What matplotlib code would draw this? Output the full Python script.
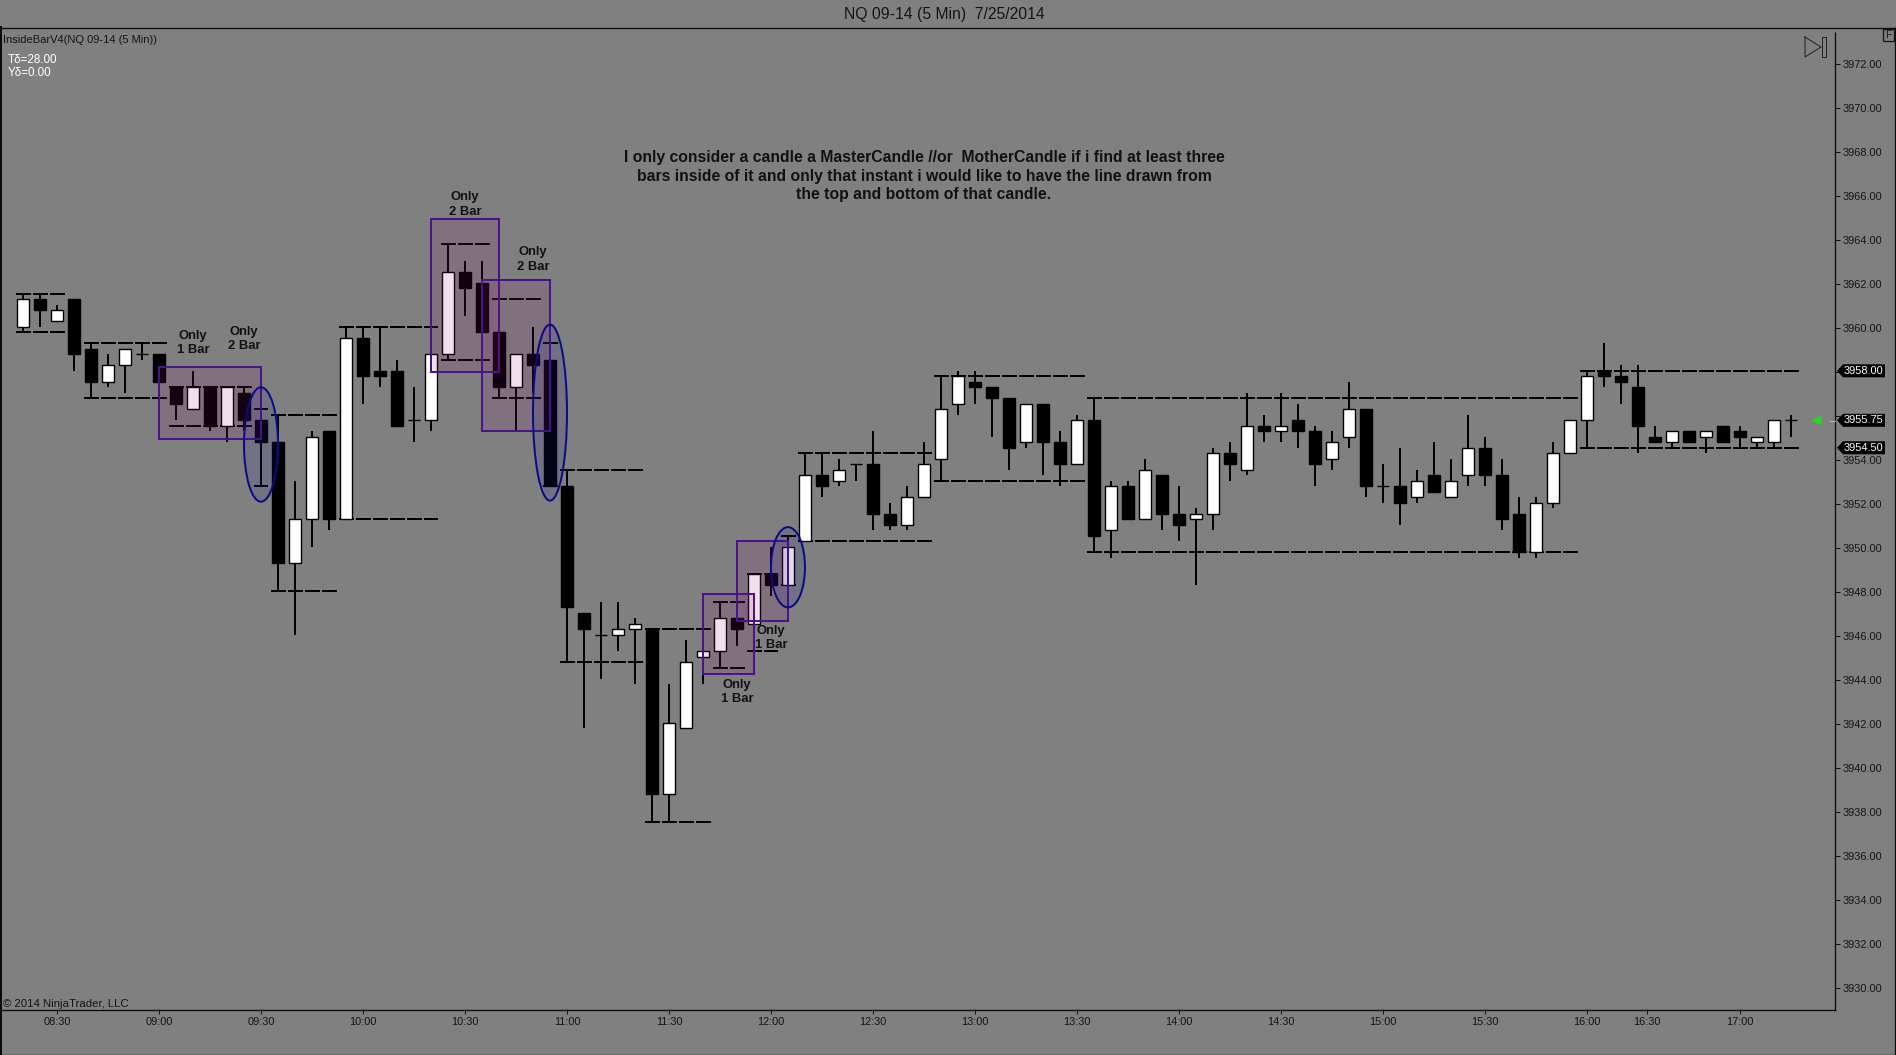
import matplotlib
matplotlib.use("Agg")
import matplotlib.pyplot as plt
from matplotlib.patches import Rectangle, Ellipse, Polygon
from matplotlib.transforms import blended_transform_factory

plt.rcParams['font.family'] = ['Liberation Sans', 'DejaVu Sans']

# ---------- data ----------
opens = [3960.0,3961.25,3960.25,3961.25,3959.0,3957.5,3958.25,3958.75,3958.75,3957.25,
         3956.25,3957.25,3955.5,3957.0,3955.75,3954.75,3949.25,3951.25,3955.25,3951.25,
         3959.5,3958.0,3958.0,3955.75,3955.75,3958.75,3962.5,3962.0,3959.75,3957.25,
         3958.75,3958.5,3952.75,3947.0,3946.0,3946.0,3946.25,3946.25,3938.75,3941.75,
         3945.0,3945.25,3946.75,3946.5,3948.75,3948.25,3950.25,3953.25,3953.0,3953.75,
         3953.75,3951.5,3951.0,3952.25,3954.0,3956.5,3957.5,3957.25,3956.75,3954.75,
         3956.5,3954.75,3953.75,3955.75,3950.75,3952.75,3951.25,3953.25,3951.5,3951.25,
         3951.5,3954.25,3953.5,3955.5,3955.25,3955.75,3955.25,3954.0,3955.0,3956.25,
         3952.75,3952.75,3952.25,3953.25,3952.25,3953.25,3954.5,3953.25,3951.5,3949.75,
         3952.0,3954.25,3955.75,3958.0,3957.75,3957.25,3955.0,3954.75,3955.25,3955.0,
         3955.5,3955.25,3954.75,3954.75,3955.75]
closes = [3961.25,3960.75,3960.75,3958.75,3957.5,3958.25,3959.0,3958.75,3957.5,3956.5,
          3957.25,3955.5,3957.25,3955.75,3954.75,3949.25,3951.25,3955.0,3951.25,3959.5,
          3957.75,3957.75,3955.5,3955.75,3958.75,3962.5,3961.75,3959.75,3957.25,3958.75,
          3958.25,3952.75,3947.25,3946.25,3946.0,3946.25,3946.5,3938.75,3942.0,3944.75,
          3945.25,3946.75,3946.25,3948.75,3948.25,3950.0,3953.25,3952.75,3953.5,3953.75,
          3951.5,3951.0,3952.25,3953.75,3956.25,3957.75,3957.25,3956.75,3954.5,3956.5,
          3954.75,3953.75,3955.75,3950.5,3952.75,3951.25,3953.5,3951.5,3951.0,3951.5,
          3954.25,3953.75,3955.5,3955.25,3955.5,3955.25,3953.75,3954.75,3956.25,3952.75,
          3952.75,3952.0,3953.0,3952.5,3953.0,3954.5,3953.25,3951.25,3949.75,3952.0,
          3954.25,3955.75,3957.75,3957.75,3957.5,3955.5,3954.75,3955.25,3954.75,3955.25,
          3954.75,3955.0,3955.0,3955.75,3955.75]
highs = [3961.5,3961.5,3961.0,3961.25,3959.25,3958.75,3959.0,3959.25,3958.75,3957.25,
         3958.0,3957.25,3957.25,3957.25,3957.25,3956.0,3953.0,3955.25,3955.25,3960.0,
         3960.0,3960.0,3958.5,3957.25,3958.75,3963.75,3963.0,3963.0,3959.75,3958.75,
         3960.0,3959.25,3953.5,3947.0,3947.5,3947.5,3946.75,3946.25,3943.75,3945.75,
         3945.25,3947.5,3946.75,3948.75,3950.0,3950.5,3954.25,3954.25,3954.0,3953.75,
         3955.25,3952.0,3952.75,3954.75,3957.75,3958.0,3958.0,3957.25,3956.75,3956.5,
         3956.5,3955.25,3956.0,3956.75,3953.0,3953.0,3954.0,3953.25,3952.75,3951.75,
         3954.5,3954.75,3957.0,3956.0,3957.0,3956.5,3955.5,3955.25,3957.5,3956.25,
         3953.75,3954.5,3953.5,3954.75,3954.0,3956.0,3955.0,3954.0,3952.25,3952.25,
         3954.75,3955.75,3958.0,3959.25,3958.25,3958.25,3955.5,3955.25,3955.25,3955.25,
         3955.5,3955.5,3955.0,3955.75,3956.0]
lows = [3959.75,3960.0,3960.25,3958.0,3956.75,3957.25,3957.0,3958.5,3957.5,3955.75,
        3956.25,3955.25,3954.75,3955.25,3952.75,3948.0,3946.0,3950.0,3950.75,3951.25,
        3956.5,3957.25,3955.5,3954.75,3955.25,3958.5,3960.5,3959.75,3956.75,3955.25,
        3957.0,3952.75,3944.75,3941.75,3944.0,3945.25,3943.75,3937.5,3937.5,3941.75,
        3943.75,3944.5,3945.5,3945.25,3947.75,3948.25,3950.25,3952.25,3952.75,3953.0,
        3950.75,3950.75,3950.75,3952.25,3953.0,3956.0,3956.5,3955.0,3953.5,3954.5,
        3953.25,3952.75,3953.75,3949.75,3949.5,3951.25,3951.25,3950.75,3950.25,3948.25,
        3950.75,3953.0,3953.25,3954.75,3954.75,3954.5,3952.75,3953.5,3954.5,3952.25,
        3952.0,3951.0,3952.0,3952.5,3952.25,3952.75,3952.75,3950.75,3949.5,3949.5,
        3951.75,3954.25,3954.5,3957.25,3956.5,3954.25,3954.75,3954.5,3954.75,3954.25,
        3954.75,3954.5,3954.5,3954.5,3955.0]

time_ticks = [2, 8, 14, 20, 26, 32, 38, 44, 50, 56, 62, 68, 74, 80, 86, 92, 95.5, 101]
time_labels = ['08:30','09:00','09:30','10:00','10:30','11:00','11:30','12:00','12:30',
               '13:00','13:30','14:00','14:30','15:00','15:30','16:00','16:30','17:00']
price_ticks = list(range(3930, 3973, 2))
hidden_price_labels = [3956, 3958]  # covered by the price flags in the reference

# master-candle levels: start bar, end bar, top level, bottom level
level_start = [-0.4, 3.6, 8.6, 13.6, 14.6, 18.6, 24.6, 27.6, 30.6, 31.6, 36.6, 40.6, 42.6, 44.6, 45.6, 53.6, 62.6, 91.6]
level_end   = [ 2.5, 8.5, 13.5, 14.4, 18.5, 24.4, 27.5, 30.5, 31.5, 36.5, 40.5, 42.5, 44.4, 45.5, 53.5, 62.5, 91.5, 104.5]
level_top   = [3961.5,3959.25,3957.25,3956.25,3956.0,3960.0,3963.75,3961.25,3959.25,3953.5,
               3946.25,3947.5,3948.75,3950.5,3954.25,3957.75,3956.75,3958.0]
level_bot   = [3959.75,3956.75,3955.5,3952.75,3948.0,3951.25,3958.5,3956.75,3952.75,3944.75,
               3937.5,3944.5,3945.25,3948.25,3950.25,3953.0,3949.75,3954.5]

# annotation boxes: first bar, last bar, bottom, top
box_x0 = [8, 24, 27, 40, 42]
box_x1 = [14, 28, 31, 43, 45]
box_y0 = [3954.9, 3957.95, 3955.25, 3944.2, 3946.65]
box_y1 = [3958.15, 3964.9, 3962.15, 3947.85, 3950.25]

# annotation ellipses: centre bar, centre price, height
oval_x = [14, 31, 45]
oval_y = [3954.65, 3956.1, 3949.07]
oval_h = [5.2, 8.0, 3.65]

note_x = [10, 13, 26, 30, 44, 42]
note_y = [3959.26, 3959.46, 3965.56, 3963.06, 3945.86, 3943.41]
note_t = ['Only\n1 Bar', 'Only\n2 Bar', 'Only\n2 Bar', 'Only\n2 Bar', 'Only\n1 Bar', 'Only\n1 Bar']

main_note = ('I only consider a candle a MasterCandle //or  MotherCandle if i find at least three\n'
             'bars inside of it and only that instant i would like to have the line drawn from\n'
             'the top and bottom of that candle.')

flag_prices = [3958.0, 3955.75, 3954.5]
last_price = 3955.75

# ---------- layout ----------
W, H = 1896, 1055
BG = '#808080'
DARK = '#141414'
fig = plt.figure(figsize=(W / 100, H / 100), dpi=100, facecolor=BG)
L, R, T, B = 2, 1835, 27, 1009
ax = fig.add_axes([L / W, (H - B) / H, (R - L) / W, (B - T) / H], facecolor=BG)
ax.set_xlim((L - 23) / 17, (R - 23) / 17)
PX = 1 / 22          # one pixel in price units
Y_SHIFT = 1.2 * PX   # the tick marks sit slightly below the true price in the reference
ax.set_ylim(3972 - (B - 64) / 22 - Y_SHIFT, 3972 - (T - 64) / 22 - Y_SHIFT)
for s in ax.spines.values():
    s.set_visible(False)

px = 0.72  # one pixel in points
x_bars = list(range(len(opens)))

# levels
dash = (0, (7.5, 1.0))
for x0, x1, t, b in zip(level_start, level_end, level_top, level_bot):
    ax.plot([x0, x1], [t, t], color='black', lw=2 * px, ls=dash, dash_capstyle='butt', zorder=2)
    ax.plot([x0, x1], [b, b], color='black', lw=2 * px, ls=dash, dash_capstyle='butt', zorder=2)

# candles
ax.vlines(x_bars, lows, highs, color='black', lw=2 * px, zorder=3)
body_bottom = [min(o, c) for o, c in zip(opens, closes)]
body_height = [abs(c - o) for o, c in zip(opens, closes)]
body_color = ['white' if c > o else 'black' for o, c in zip(opens, closes)]
ax.bar(x_bars, body_height, bottom=body_bottom, width=12 / 17, color=body_color,
       edgecolor='black', linewidth=1.4 * px, zorder=4)

# annotation overlays
for x0, x1, y0, y1 in zip(box_x0, box_x1, box_y0, box_y1):
    ax.add_patch(Rectangle((x0, y0), x1 - x0, y1 - y0, facecolor=(0.55, 0.05, 0.45, 0.13),
                           edgecolor='#47148a', linewidth=2 * px, zorder=5))
for x, y, h in zip(oval_x, oval_y, oval_h):
    ax.add_patch(Ellipse((x, y), 2.0, h, facecolor=(0.1, 0.1, 0.6, 0.14),
                         edgecolor='#0b0b85', linewidth=2 * px, zorder=6))
for x, y, t in zip(note_x, note_y, note_t):
    ax.text(x, y, t, ha='center', va='center', fontsize=9.4, color='#111111',
            linespacing=1.25, zorder=7, fontweight='bold')
ax.text(53, 3966.84, main_note, ha='center', va='center', fontsize=11.3, color='#111111',
        fontweight='bold', linespacing=1.3, zorder=7)

# last price marker
ax.plot([105.47], [last_price], marker='<', ms=6.5, color='#1fdc1f', mec='none', zorder=7, clip_on=False)

# axes ticks
ax.set_xticks(time_ticks, time_labels)
ax.set_yticks([p - Y_SHIFT for p in price_ticks],
              ['' if p in hidden_price_labels else f'{p:.2f}' for p in price_ticks])
ax.yaxis.tick_right()
ax.tick_params(axis='x', length=5 * px, width=px, color=DARK, labelcolor=DARK, labelsize=7.9, pad=2.3)
ax.tick_params(axis='y', length=5 * px, width=px, color=DARK, labelcolor=DARK, labelsize=7.9, pad=2)

# price flags, drawn on the price scale
tr = blended_transform_factory(ax.transAxes, ax.transData)
axw = R - L
for p in flag_prices:
    d = 6.5 / 22
    f0, f1, f2 = 1 + 2 / axw, 1 + 8 / axw, 1 + 50 / axw
    ax.add_patch(Polygon([(f0, p), (f1, p + d), (f2, p + d), (f2, p - d), (f1, p - d)], closed=True,
                         facecolor='black', edgecolor='none', transform=tr, clip_on=False, zorder=10))
    ax.text(1 + 9 / axw, p, f'{p:.2f}', color='white', fontsize=7.9, va='center', ha='left',
            transform=tr, clip_on=False, zorder=11)

# ---------- window furniture, in pixels ----------
ov = fig.add_axes([0, 0, 1, 1], facecolor='none')
ov.set_xlim(0, W)
ov.set_ylim(H, 0)
ov.axis('off')
ln = dict(color='#0c0c0c', lw=1.0 * px * 1.3, solid_capstyle='butt')
ov.plot([0, W], [27.5, 27.5], **ln)
ov.plot([0, R + 1], [1009.5, 1009.5], **ln)
ov.plot([0, W], [1054.5, 1054.5], **ln)
ov.plot([1, 1], [27, H], color='#0c0c0c', lw=2 * px)
ov.plot([1895.5, 1895.5], [27, H], **ln)
ov.plot([R + 0.5, R + 0.5], [32, 1010], **ln)
ov.plot([1830, 1835], [420.5, 420.5], color='#b5b5b5', lw=px)
ov.plot([1805, 1805, 1821, 1805], [37, 57, 47, 37], color='#222222', lw=px)
ov.add_patch(Rectangle((1822, 37), 4, 20, facecolor='none', edgecolor='#222222', lw=px))
ov.add_patch(Rectangle((1883, 29), 11, 12, facecolor='none', edgecolor='#141414', lw=1.3 * px))
ov.text(1888.5, 35.2, 'F', ha='center', va='center', fontsize=7.5, color=DARK)

ov.text(944, 14.5, 'NQ 09-14 (5 Min)  7/25/2014', ha='center', va='center', fontsize=11.3, color=DARK)
ov.text(3, 40, 'InsideBarV4(NQ 09-14 (5 Min))', ha='left', va='center', fontsize=8.0, color=DARK)
ov.text(8, 60, 'Tδ=28.00', ha='left', va='center', fontsize=8.4, color='white')
ov.text(8, 73, 'Yδ=0.00', ha='left', va='center', fontsize=8.4, color='white')
ov.text(3, 1004, '© 2014 NinjaTrader, LLC', ha='left', va='center', fontsize=8.2, color=DARK)

fig.savefig('out.png', dpi=100, facecolor=BG)
